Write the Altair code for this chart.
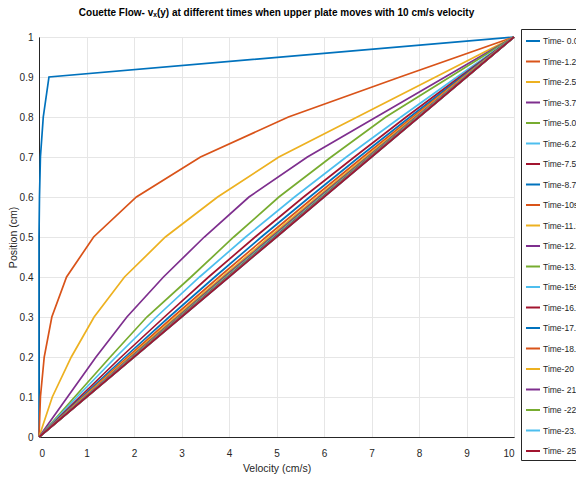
import altair as alt
import pandas as pd

positions = [0, 0.1, 0.2, 0.3, 0.4, 0.5, 0.6, 0.7, 0.8, 0.9, 1.0]
x_ticks = [0, 1, 2, 3, 4, 5, 6, 7, 8, 9, 10]

labels = ["Time- 0.0s", "Time-1.25s", "Time-2.5s", "Time-3.7s", "Time-5.0s",
          "Time-6.2s", "Time-7.5s", "Time-8.7s", "Time-10s", "Time-11.25s",
          "Time-12.5s", "Time-13.7s", "Time-15s", "Time-16.2s", "Time-17.5s",
          "Time-18.7s", "Time-20 s", "Time- 21.2s", "Time -22.5s", "Time-23.7s",
          "Time- 25 s"]

v_t00 = [0, 0, 0, 0, 0, 0, 0.01, 0.03, 0.09, 0.21, 10]
v_t01 = [0, 0.03, 0.11, 0.27, 0.58, 1.15, 2.05, 3.40, 5.25, 7.60, 10]
v_t02 = [0, 0.28, 0.68, 1.16, 1.80, 2.66, 3.76, 5.05, 6.70, 8.35, 10]
v_t03 = [0, 0.60, 1.20, 1.85, 2.62, 3.48, 4.42, 5.65, 7.10, 8.55, 10]
v_t04 = [0, 0.75, 1.50, 2.27, 3.20, 4.10, 5.05, 6.15, 7.30, 8.65, 10]
v_t05 = [0, 0.80, 1.62, 2.47, 3.38, 4.35, 5.38, 6.47, 7.62, 8.80, 10]
v_t06 = [0, 0.86, 1.73, 2.64, 3.57, 4.55, 5.57, 6.64, 7.73, 8.86, 10]
v_t07 = [0, 0.90, 1.81, 2.74, 3.70, 4.68, 5.70, 6.74, 7.81, 8.90, 10]
v_t08 = [0, 0.93, 1.87, 2.82, 3.79, 4.78, 5.79, 6.82, 7.87, 8.93, 10]
v_t09 = [0, 0.95, 1.91, 2.88, 3.86, 4.85, 5.86, 6.88, 7.91, 8.95, 10]
v_t10 = [0, 0.97, 1.94, 2.92, 3.90, 4.90, 5.90, 6.92, 7.94, 8.97, 10]
v_t11 = [0, 0.98, 1.96, 2.94, 3.93, 4.93, 5.93, 6.94, 7.96, 8.98, 10]
v_t12 = [0, 0.98, 1.97, 2.96, 3.95, 4.95, 5.95, 6.96, 7.97, 8.98, 10]
v_t13 = [0, 0.99, 1.98, 2.97, 3.97, 4.97, 5.97, 6.97, 7.98, 8.99, 10]
v_t14 = [0, 0.99, 1.99, 2.98, 3.98, 4.97, 5.98, 6.98, 7.99, 8.99, 10]
v_t15 = [0, 0.99, 1.99, 2.98, 3.98, 4.98, 5.98, 6.98, 7.99, 8.99, 10]
v_t16 = [0, 1.00, 1.99, 2.99, 3.99, 4.99, 5.99, 6.99, 7.99, 9.00, 10]
v_t17 = [0, 1.00, 2.00, 2.99, 3.99, 4.99, 5.99, 6.99, 8.00, 9.00, 10]
v_t18 = [0, 1.00, 2.00, 3.00, 3.99, 5.00, 5.99, 7.00, 8.00, 9.00, 10]
v_t19 = [0, 1.00, 2.00, 3.00, 4.00, 5.00, 6.00, 7.00, 8.00, 9.00, 10]
v_t20 = [0, 1.00, 2.00, 3.00, 4.00, 5.00, 6.00, 7.00, 8.00, 9.00, 10]

series = [v_t00, v_t01, v_t02, v_t03, v_t04, v_t05, v_t06, v_t07, v_t08, v_t09,
          v_t10, v_t11, v_t12, v_t13, v_t14, v_t15, v_t16, v_t17, v_t18, v_t19, v_t20]

base_colors = ["#0072BD", "#D95319", "#EDB120", "#7E2F8E", "#77AC30", "#4DBEEE", "#A2142F"]
colors = [base_colors[i % 7] for i in range(len(labels))]

rows = []
for idx, (lab, vals) in enumerate(zip(labels, series)):
    for p, v in zip(positions, vals):
        rows.append({"series": lab, "idx": idx, "position": p, "velocity": v})
df = pd.DataFrame(rows)

FONT = "Liberation Sans"

chart = alt.Chart(df).mark_line(strokeWidth=1.7).encode(
    x=alt.X("velocity:Q", title="Velocity (cm/s)",
            scale=alt.Scale(domain=[0, 10], nice=False),
            axis=alt.Axis(values=x_ticks, format="d", grid=True,
                          tickSize=0, labelPadding=11, titlePadding=5)),
    y=alt.Y("position:Q", title="Position (cm)",
            scale=alt.Scale(domain=[0, 1], nice=False),
            axis=alt.Axis(values=positions, format="~g", grid=True,
                          tickSize=0, labelPadding=6, titlePadding=1)),
    color=alt.Color("series:N", sort=labels,
                    scale=alt.Scale(domain=labels, range=colors),
                    legend=alt.Legend(title=None, orient="none", legendX=482, legendY=-8,
                                      symbolType="stroke", symbolSize=196,
                                      symbolStrokeWidth=2, rowPadding=7.5,
                                      labelFontSize=8.5, labelFont=FONT, labelColor="#262626",
                                      labelOffset=2,
                                      padding=4, strokeColor="#262626", fillColor="white",
                                      labelLimit=80)),
    detail="idx:O",
    order=alt.Order("position:Q"),
).properties(
    width=475, height=400,
    title=alt.TitleParams("Couette Flow- vₓ(y) at different times when upper plate moves with 10 cm/s velocity",
                          fontSize=10, font=FONT, fontWeight="bold", color="#000000", offset=11),
    autosize=alt.AutoSizeParams(type="none"),
    padding={"left": 31, "top": 29, "right": 62, "bottom": 38},
).configure_view(
    stroke="#262626", strokeWidth=1
).configure_axis(
    labelFont=FONT, titleFont=FONT, labelFontSize=10, titleFontSize=10.5,
    labelColor="#262626", titleColor="#262626", titleFontWeight="normal",
    gridColor="#e6e6e6", domainColor="#262626"
)

chart.save("out.html", embed_options={"renderer": "svg", "actions": False})
